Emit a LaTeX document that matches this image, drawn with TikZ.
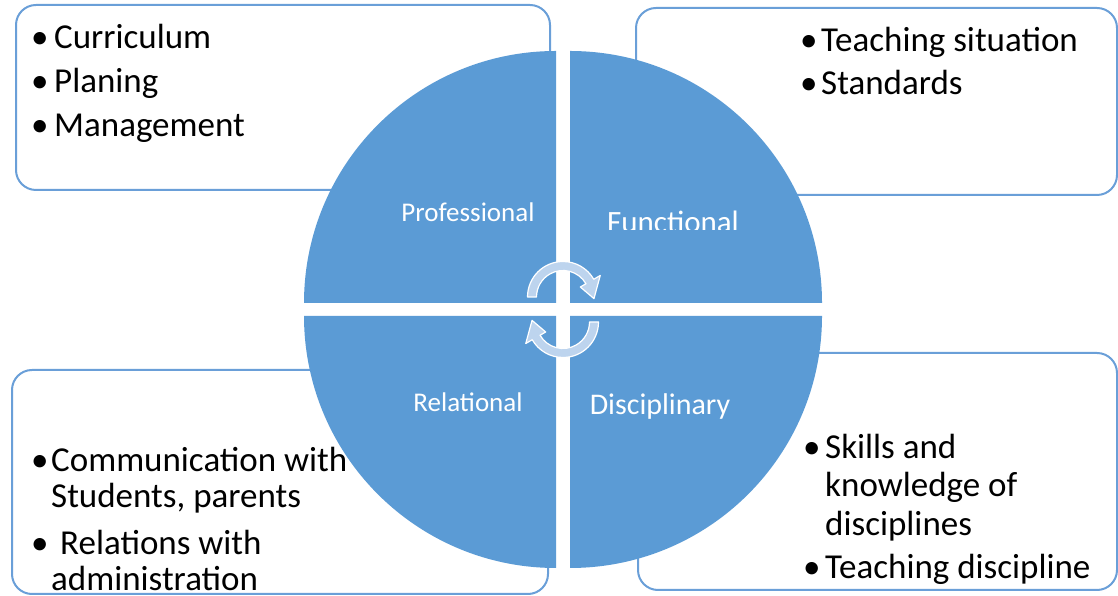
\documentclass[tikz,border=0pt]{standalone}
\usepackage{fontspec}
\setmainfont{Carlito}
\definecolor{circblue}{HTML}{5B9BD5}
\definecolor{boxblue}{HTML}{6A9FD8}
\definecolor{arrowfill}{HTML}{BDD4EE}
\begin{document}
\begin{tikzpicture}[x=1pt,y=1pt,
  box/.style={draw=boxblue, line width=2pt, fill=white, rounded corners=20pt, inner sep=0pt},
  quad/.style={fill=circblue},
  item/.style={anchor=base west, inner sep=0pt, font=\fontsize{35pt}{40pt}\selectfont},
  lab/.style={anchor=base, inner sep=0pt, text=white},
  cyc/.style={fill=arrowfill, draw=white, line width=1.2pt, line join=round}]
\useasboundingbox (0,0) rectangle (1118,596);
% boxes
\node[box, minimum width=534pt, minimum height=185pt] (tlbox) at (283,498.5) {};
\node[box, minimum width=481pt, minimum height=187pt] (trbox) at (876.5,494.5) {};
\node[box, minimum width=536pt, minimum height=224pt] (blbox) at (280,114) {};
\node[box, minimum width=479pt, minimum height=237pt] (brbox) at (877.5,124.5) {};
% quadrants
\fill[quad] (556,293) -- ++(-252,0) arc[start angle=180,end angle=90,radius=252] -- cycle;
\fill[quad] (570,293) -- ++(0,252) arc[start angle=90,end angle=0,radius=252] -- cycle;
\fill[quad] (556,280) -- ++(0,-252) arc[start angle=270,end angle=180,radius=252] -- cycle;
\fill[quad] (570,280) -- ++(252,0) arc[start angle=0,end angle=-90,radius=252] -- cycle;
% circular arrows
\begin{scope}[shift={(563,299)}]
\draw[cyc] (180:26.5) -- (180:35.5) arc[start angle=180,end angle=30,radius=35.5]
  -- (30:43) -- (-3:31) -- (30:20) -- (30:26.5) arc[start angle=30,end angle=180,radius=26.5] -- cycle;
\end{scope}
\begin{scope}[shift={(563,274)},rotate=180]
\draw[cyc] (180:26.5) -- (180:35.5) arc[start angle=180,end angle=30,radius=35.5]
  -- (30:43) -- (-3:31) -- (30:20) -- (30:26.5) arc[start angle=30,end angle=180,radius=26.5] -- cycle;
\end{scope}
% quadrant labels
\node[lab, font=\fontsize{27pt}{32pt}\selectfont] (prof) at (468,374) {Professional};
\begin{scope}
\clip (572,366) rectangle (820,420);
\node[lab, font=\fontsize{31pt}{36pt}\selectfont] (func) at (673,363) {Functional};
\end{scope}
\node[lab, font=\fontsize{27pt}{32pt}\selectfont] (rel) at (468,184) {Relational};
\node[lab, font=\fontsize{30pt}{36pt}\selectfont] (disc) at (660,181) {Disciplinary};
% top-left items
\node[item] (b1) at (31,547) {•};
\node[item] (t1) at (54,547) {Curriculum};
\node[item] (b2) at (31,503) {•};
\node[item] (t2) at (54,503) {Planing};
\node[item] (b3) at (31,459) {•};
\node[item] (t3) at (54,459) {Management};
% top-right items
\node[item] (b4) at (800,544) {•};
\node[item] (t4) at (821,544) {Teaching situation};
\node[item] (b5) at (800,501) {•};
\node[item] (t5) at (821,501) {Standards};
% bottom-left items
\node[item] (b6) at (31,124) {•};
\node[item] (t6) at (51,124) {Communication with};
\node[item] (t7) at (51,88) {Students, parents};
\node[item] (b8) at (31,41) {•};
\node[item] (t8) at (60,41) {Relations with};
\node[item] (t9) at (51,5) {administration};
% bottom-right items
\node[item] (b10) at (803,137) {•};
\node[item] (t10) at (825,137) {Skills and};
\node[item] (t11) at (825,99) {knowledge of};
\node[item] (t12) at (825,60) {disciplines};
\node[item] (b13) at (803,17) {•};
\node[item] (t13) at (825,17) {Teaching discipline};
\end{tikzpicture}
\end{document}
